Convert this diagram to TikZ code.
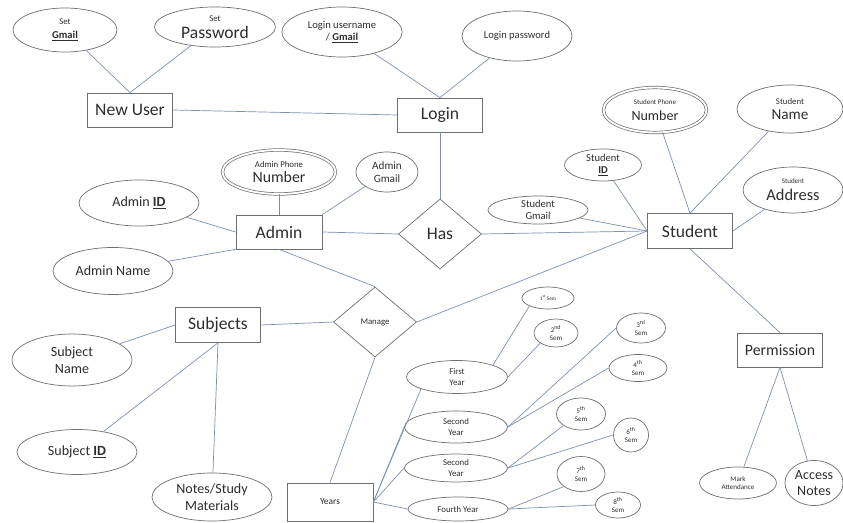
\documentclass[tikz,border=0pt]{standalone}
\usepackage{fontspec}
\setmainfont{Carlito}
\usetikzlibrary{shapes.geometric}

\definecolor{linkcol}{RGB}{125,145,175}
\definecolor{shapecol}{RGB}{110,110,110}
\definecolor{txtcol}{RGB}{45,45,45}

\newcommand{\fbig}{\fontsize{15}{17}\selectfont}
\newcommand{\fmid}{\fontsize{12}{14}\selectfont}
\newcommand{\fsm}{\fontsize{9}{10.5}\selectfont}
\newcommand{\ftiny}{\fontsize{7.5}{9}\selectfont}
\newcommand{\fmini}{\fontsize{6}{7.5}\selectfont}

\begin{document}
\begin{tikzpicture}[x=0.3mm, y=-0.3mm, font=\fsm,
	entity/.style={draw=shapecol, line width=0.6pt, rectangle, inner sep=2pt, text=txtcol, font=\fbig},
	rel/.style={draw=shapecol, line width=0.6pt, diamond, inner sep=0pt, text=txtcol},
	attr/.style={draw=shapecol, line width=0.6pt, ellipse, inner sep=0pt, align=center, text=txtcol},
	mvattr/.style={attr, double, double distance=1.6pt},
	sz/.style 2 args={minimum width=#1*0.3mm, minimum height=#2*0.3mm},
	link/.style={draw=linkcol, line width=0.6pt}]
		
		\useasboundingbox (0,0) rectangle (843,523);
		
		% Nodes
		\node[entity, sz={85}{34}] (nu) at (130,110) {New User};
		\node[entity, sz={85}{34}] (login) at (440,115) {Login};
		\node[entity, sz={86}{34}] (admin) at (279,232) {Admin};
		\node[entity, sz={85}{35}] (student) at (690,231) {Student};
		\node[entity, sz={85}{35}] (subj) at (218,325) {Subjects};
		\node[entity, sz={85}{34}, font=\fontsize{13.5}{15}\selectfont] (perm) at (780,350) {Permission};
		\node[entity, sz={86}{38}, font=\fontsize{8}{9.5}\selectfont] (years) at (330,502) {Years};
		
		\node[rel, sz={83}{70}, font=\fbig] (has) at (440,234) {Has};
		\node[rel, sz={83}{70}, font=\ftiny] (manage) at (375,322) {Manage};
		
		\node[attr, sz={104}{44}] (sgmail) at (65,30) {{\ftiny Set}\\[1pt]\textbf{\underline{Gmail}}};
		\node[attr, sz={121}{40}] (spass) at (215,27) {{\ftiny Set}\\[4pt]{\fbig Password}};
		\node[attr, sz={120}{50}] (lguser) at (342,32) {Login username\\/ \textbf{\underline{Gmail}}};
		\node[attr, sz={110}{50}] (lgpass) at (517,36) {Login password};
		
		\node[mvattr, sz={113}{44}] (aphone) at (279,172) {{\ftiny Admin Phone}\\[3pt]{\fontsize{13.5}{15}\selectfont Number}};
		\node[attr, sz={62}{40}, font=\fontsize{9.5}{11}\selectfont] (agmail) at (387,172) {Admin\\Gmail};
		\node[attr, sz={120}{46}, font=\fmid] (aid) at (139,203) {Admin \textbf{\underline{ID}}};
		\node[attr, sz={120}{47}, font=\fmid] (aname) at (113,271) {Admin Name};
		
		\node[mvattr, sz={103}{45}] (sphone) at (655,110) {{\fmini Student Phone}\\[3pt]{\fmid Number}};
		\node[attr, sz={106}{48}] (sname) at (790,109) {{\ftiny Student}\\[3pt]{\fontsize{13}{15}\selectfont Name}};
		\node[attr, sz={77}{32}] (sid) at (603,165) {Student\\\textbf{\underline{ID}}};
		\node[attr, sz={100}{46}] (saddr) at (793,190) {{\fmini Student}\\[4pt]{\fontsize{14}{16}\selectfont Address}};
		\node[attr, sz={100}{28}] (sgm) at (538,210) {Student\\Gmail};
		
		\node[attr, sz={77}{32}, font=\fmini] (mark) at (738,483) {Mark\\Attendance};
		\node[attr, sz={58}{45}, font=\fmid] (access) at (814,483) {Access\\Notes};
		
		\node[attr, sz={120}{52}, font=\fmid] (subname) at (72,360) {Subject\\Name};
		\node[attr, sz={120}{45}, font=\fmid] (subid) at (77,452) {Subject \textbf{\underline{ID}}};
		\node[attr, sz={120}{48}, font=\fmid] (notes) at (212,497) {Notes/Study\\Materials};
		
		\node[attr, sz={101}{33}, font=\ftiny] (y1) at (457,377) {First\\Year};
		\node[attr, sz={103}{32}, font=\ftiny] (y2) at (456,427) {Second\\Year};
		\node[attr, sz={103}{28}, font=\ftiny] (y3) at (456,468) {Second\\Year};
		\node[attr, sz={100}{24}, font=\ftiny] (y4) at (458,509) {Fourth Year};
		
		\node[attr, sz={52}{22}, font=\fontsize{4.5}{5.5}\selectfont] (s1) at (548,298) {1\textsuperscript{st} Sem};
		\node[attr, sz={44}{28}, font=\fmini] (s2) at (556,333) {2\textsuperscript{nd}\\Sem};
		\node[attr, sz={49}{30}, font=\fmini] (s3) at (641,328) {3\textsuperscript{rd}\\Sem};
		\node[attr, sz={58}{27}, font=\fmini] (s4) at (638,368) {4\textsuperscript{th}\\Sem};
		\node[attr, sz={49}{32}, font=\fmini] (s5) at (581,414) {5\textsuperscript{th}\\Sem};
		\node[attr, sz={35}{34}, font=\fmini] (s6) at (631,435) {6\textsuperscript{th}\\Sem};
		\node[attr, sz={48}{35}, font=\fmini] (s7) at (581,474) {7\textsuperscript{th}\\Sem};
		\node[attr, sz={45}{26}, font=\fmini] (s8) at (618,505) {8\textsuperscript{th}\\Sem};
		
		% Lines
		\draw[link] (sgmail) -- (nu.north);
		\draw[link] (spass) -- (nu.north);
		\draw[link] (nu.east) -- (login.west);
		\draw[link] (lguser) -- (login.north);
		\draw[link] (lgpass) -- (login.north);
		\draw[link] (login.south) -- (has.north);
		
		\draw[link] (aphone.south) -- (admin.north);
		\draw[link] (agmail) -- (admin.north east);
		\draw[link] (aid) -- (admin.west);
		\draw[link] (aname) -- (admin.south west);
		\draw[link] (admin.east) -- (has.west);
		\draw[link] (admin.south) -- (manage.north);
		
		\draw[link] (has.east) -- (student.west);
		\draw[link] (manage.east) -- (student.west);
		\draw[link] (sgm) -- (student.west);
		\draw[link] (sid) -- (student.west);
		\draw[link] (sphone) -- (student.north);
		\draw[link] (sname) -- (student.north);
		\draw[link] (saddr) -- (student.east);
		\draw[link] (student.south) -- (perm.north);
		\draw[link] (perm.south) -- (mark);
		\draw[link] (perm.south) -- (access);
		
		\draw[link] (subj.west) -- (subname);
		\draw[link] (subj.south) -- (subid);
		\draw[link] (subj.south) -- (notes);
		\draw[link] (subj.east) -- (manage.west);
		\draw[link] (manage.south) -- (years.north);
		
		\draw[link] (years.east) -- (y1.south west);
		\draw[link] (years.east) -- (y2.west);
		\draw[link] (years.east) -- (y3.west);
		\draw[link] (years.east) -- (y4.west);
		\draw[link] (y1.north east) -- (s1.south west);
		\draw[link] (y1.east) -- (s2.south west);
		\draw[link] (y2.east) -- (s3.west);
		\draw[link] (y2.east) -- (s4.west);
		\draw[link] (y3.east) -- (s5.south west);
		\draw[link] (y3.east) -- (s6.west);
		\draw[link] (y4.east) -- (s7.south west);
		\draw[link] (y4.east) -- (s8.west);
		
\end{tikzpicture}
\end{document}
